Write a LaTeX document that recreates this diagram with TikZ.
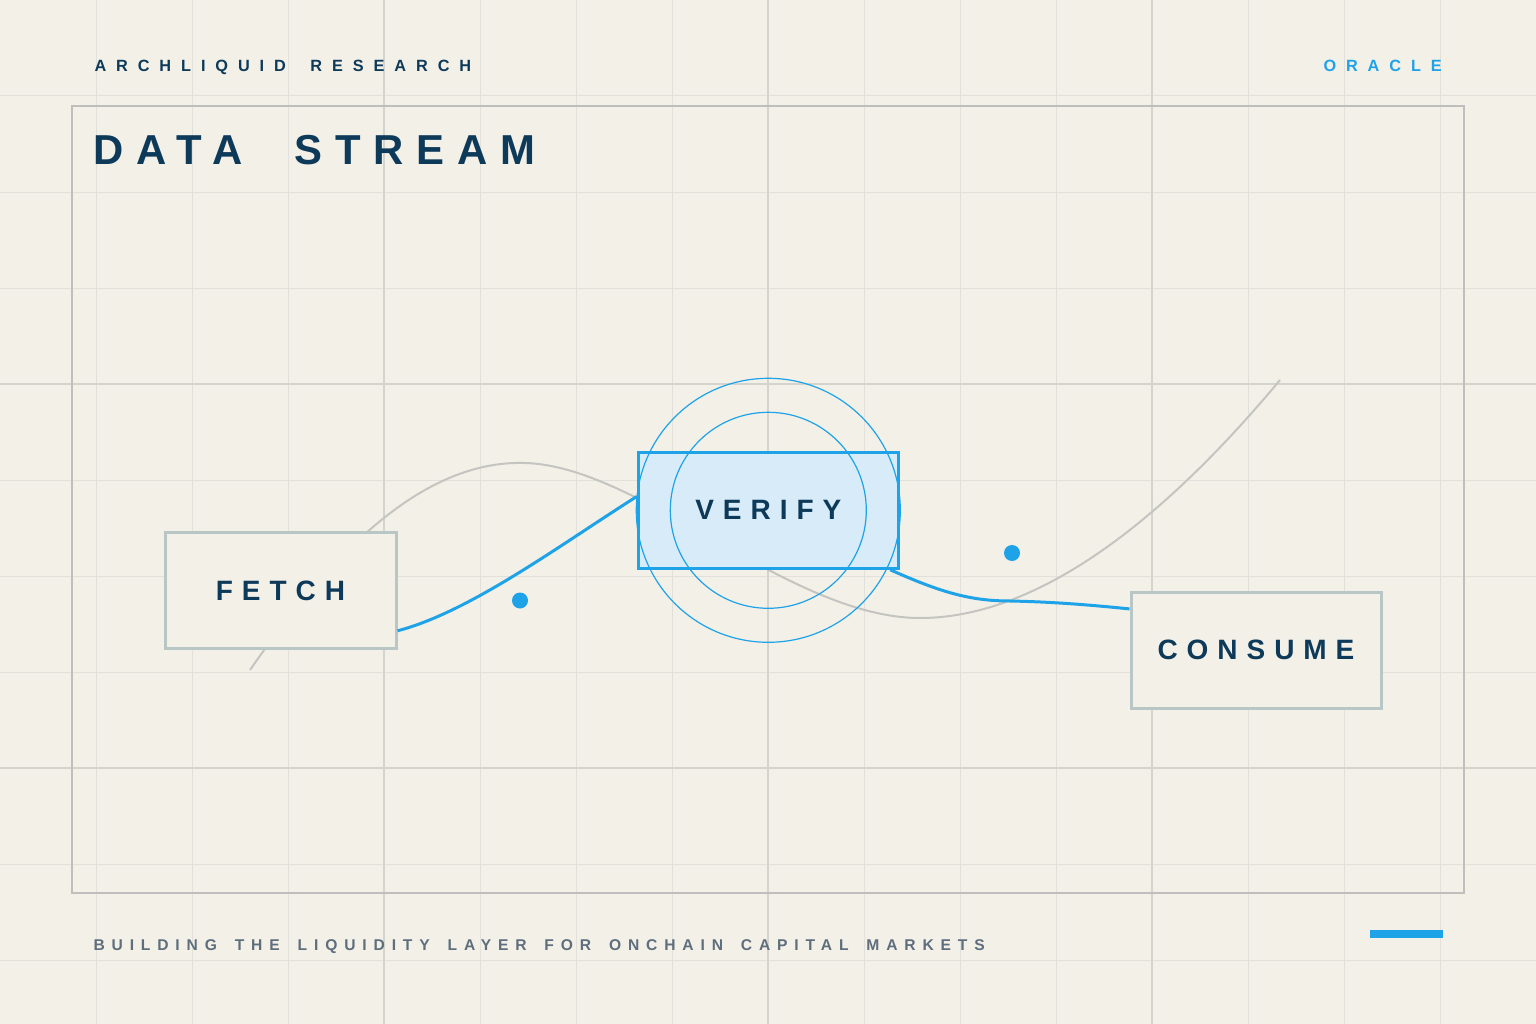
\documentclass[tikz,border=0pt]{standalone}
\usepackage{fontspec}
\setmainfont{Liberation Sans}
\usetikzlibrary{positioning}

\definecolor{paper}{RGB}{243,240,232}
\definecolor{gridline}{RGB}{226,224,218}
\definecolor{gridmajor}{RGB}{212,212,207}
\definecolor{framegray}{RGB}{190,190,188}
\definecolor{navy}{RGB}{14,58,90}
\definecolor{oracleblue}{RGB}{30,163,232}
\definecolor{verifyfill}{RGB}{215,236,248}
\definecolor{boxgray}{RGB}{184,198,197}
\definecolor{footgray}{RGB}{94,110,124}
\definecolor{curvegray}{RGB}{196,196,192}

\newfontfamily\headfont[LetterSpace=61,WordSpace=1.7]{Liberation Sans}
\newfontfamily\titlefont[LetterSpace=31,WordSpace=2.1]{Liberation Sans}
\newfontfamily\stagefont[LetterSpace=32]{Liberation Sans}
\newfontfamily\footfont[LetterSpace=44,WordSpace=1.6]{Liberation Sans}

\tikzset{every picture/.style={line width=0.75pt},
  gridminor/.style={color=gridline, line width=0.75pt},
  gridbold/.style={color=gridmajor, line width=0.9pt},
  stagebox/.style={draw=boxgray, line width=2.25pt, fill=paper, minimum height=87pt,
    inner sep=0pt, text=navy, font=\stagefont\fontsize{21}{24}\selectfont\bfseries},
  verifybox/.style={stagebox, draw=oracleblue, fill=verifyfill, minimum width=195pt},
  ringline/.style={color=oracleblue, line width=0.9pt},
  flowline/.style={color=oracleblue, line width=2.25pt},
  label text/.style={anchor=base west, inner sep=0pt}}

\begin{document}
\begin{tikzpicture}[x=0.75pt,y=0.75pt,yscale=-1,xscale=1]
\useasboundingbox (0,0) rectangle (1536,1024);

%Shape: Background
\fill [paper] (0,0) rectangle (1536,1024);
%Shape: Grid
\foreach \gx in {96,192,...,1440} \draw [gridminor] (\gx,0) -- (\gx,1024);
\foreach \gy in {96,192,...,960} \draw [gridminor] (0,\gy) -- (1536,\gy);
\foreach \gx in {384,768,1152} \draw [gridbold] (\gx,0) -- (\gx,1024);
\foreach \gy in {384,768} \draw [gridbold] (0,\gy) -- (1536,\gy);
%Shape: Rectangle frame
\draw [framegray, line width=1.1pt] (72,106) rectangle (1464,893);

%Curve Lines: gray wave
\draw [curvegray, line width=1.5pt] (250,670) .. controls (340,540) and (430,460) .. (525,463) .. controls (640,466) and (790,618) .. (920,618) .. controls (1050,618) and (1180,500) .. (1280,380);

% Stage nodes
\node [stagebox, minimum width=173.25pt] (fetch) at (280.5,590.5) {FETCH};
\node [verifybox] (verify) at (768.3,510.3) {VERIFY};
\node [stagebox, minimum width=187.5pt] (consume) at (1256,650) {CONSUME};

%Shape: Circles round verify
\draw [ringline] (verify.center) circle [radius=98];
\draw [ringline] (verify.center) circle [radius=132];

%Curve Lines: flow
\draw [flowline] (fetch.-19) .. controls (470,612) and (560,545) .. (verify.174);
\draw [flowline] (verify.-26) .. controls (940,592) and (970,601) .. (1010,601) .. controls (1060,602) and (1100,606) .. (consume.162);

%Shape: Dots
\fill [oracleblue] (520,600.5) circle [radius=8];
\fill [oracleblue] (1012,553) circle [radius=8];
%Shape: Bar
\fill [oracleblue] (1370,930) rectangle (1443,938);

% Text Node
\node [label text, text=navy, font=\headfont\fontsize{12.2}{14}\selectfont\bfseries] (brand) at (94,72) {ARCHLIQUID RESEARCH};
% Text Node
\node [label text, text=oracleblue, font=\headfont\fontsize{12.2}{14}\selectfont\bfseries] (tag) at (1323,72) {ORACLE};
% Text Node
\node [label text, text=navy, font=\titlefont\fontsize{31.4}{36}\selectfont\bfseries] (title) at (93,165) {DATA STREAM};
% Text Node
\node [label text, text=footgray, font=\footfont\fontsize{11.7}{14}\selectfont\bfseries] (motto) at (93,950) {BUILDING THE LIQUIDITY LAYER FOR ONCHAIN CAPITAL MARKETS};

\end{tikzpicture}
\end{document}
